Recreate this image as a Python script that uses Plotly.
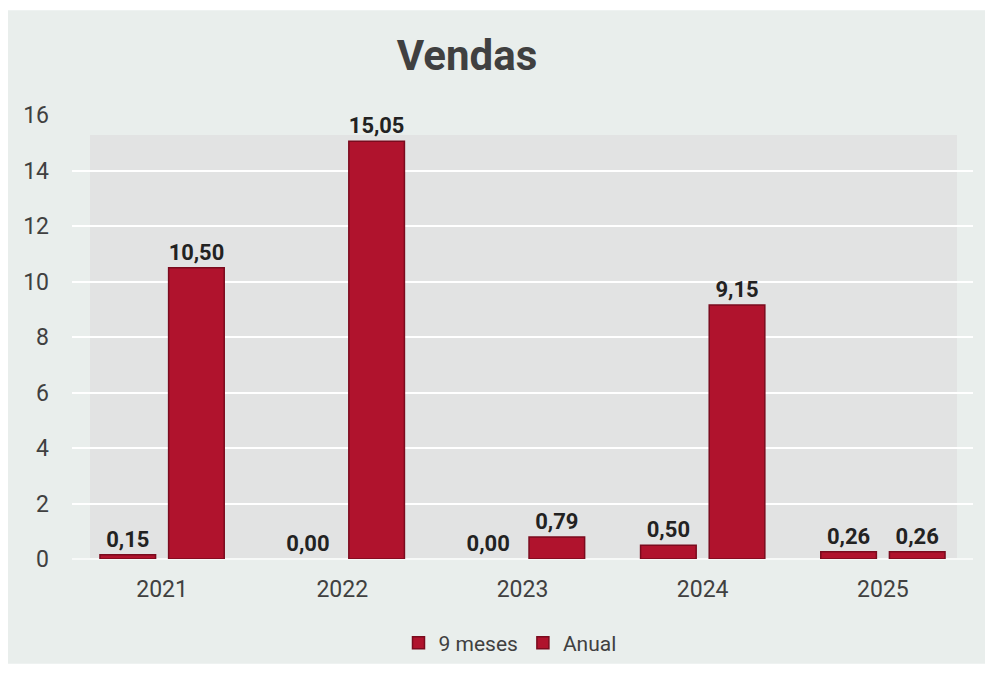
import plotly.graph_objects as go

categories = ["2021", "2022", "2023", "2024", "2025"]
nove_meses = [0.15, 0.00, 0.00, 0.50, 0.26]
anual = [10.50, 15.05, 0.79, 9.15, 0.26]
y_ticks = [0, 2, 4, 6, 8, 10, 12, 14, 16]

W, H = 990, 674
L, R, T, B = 72, 17, 115, 114
pw, ph = W - L - R, H - T - B

def px_x(x):
    return (x - L) / pw

def px_y(y):
    return (H - B - y) / ph

bar_color = "#b0132d"
line_color = "#7a0b1e"

fig = go.Figure()
for name, vals in [("9 meses", nove_meses), ("Anual", anual)]:
    fig.add_trace(go.Bar(
        name=name, x=categories, y=vals,
        marker=dict(color=bar_color,
                    line=dict(color=line_color, width=[1.5 if v > 0 else 0 for v in vals])),
        texttemplate="%{y:.2f}", textposition="outside", cliponaxis=False,
        textfont=dict(family="Roboto", size=22, color="#222222", weight="bold"),
    ))

fig.update_layout(
    width=W, height=H,
    margin=dict(l=L, r=R, t=T, b=B),
    separators=",.",
    paper_bgcolor="white",
    plot_bgcolor="rgba(0,0,0,0)",
    barmode="group", bargap=0.238, bargroupgap=0.19,
    font=dict(family="Roboto", color="#404040"),
    title=dict(text="<b>Vendas</b>", x=467 / W, xref="container", xanchor="center",
               y=1 - 55 / H, yanchor="middle", font=dict(size=42, color="#404040")),
    showlegend=True,
    legend=dict(orientation="h", x=px_x(510), xanchor="center", y=px_y(643), yanchor="middle",
                font=dict(size=21, color="#404040"), bgcolor="rgba(0,0,0,0)"),
    xaxis=dict(showgrid=False, showline=False, ticks="", tickfont=dict(size=23, color="#404040"),
               ticklabelstandoff=14),
    yaxis=dict(range=[0, 16], tickvals=y_ticks, showgrid=True, gridcolor="white", gridwidth=2,
               zeroline=True, zerolinecolor="#f7f9f8", zerolinewidth=2,
               tickfont=dict(size=23, color="#404040"), ticklabelstandoff=22),
    shapes=[
        dict(type="rect", xref="paper", yref="paper", layer="below",
             x0=px_x(8), x1=px_x(985), y0=px_y(665), y1=px_y(10),
             fillcolor="#e9eeec", line=dict(width=0)),
        dict(type="rect", xref="paper", yref="paper", layer="below",
             x0=px_x(90), x1=px_x(957), y0=px_y(560), y1=px_y(135),
             fillcolor="#e2e3e3", line=dict(width=0)),
    ],
)

fig.write_html("out.html")
